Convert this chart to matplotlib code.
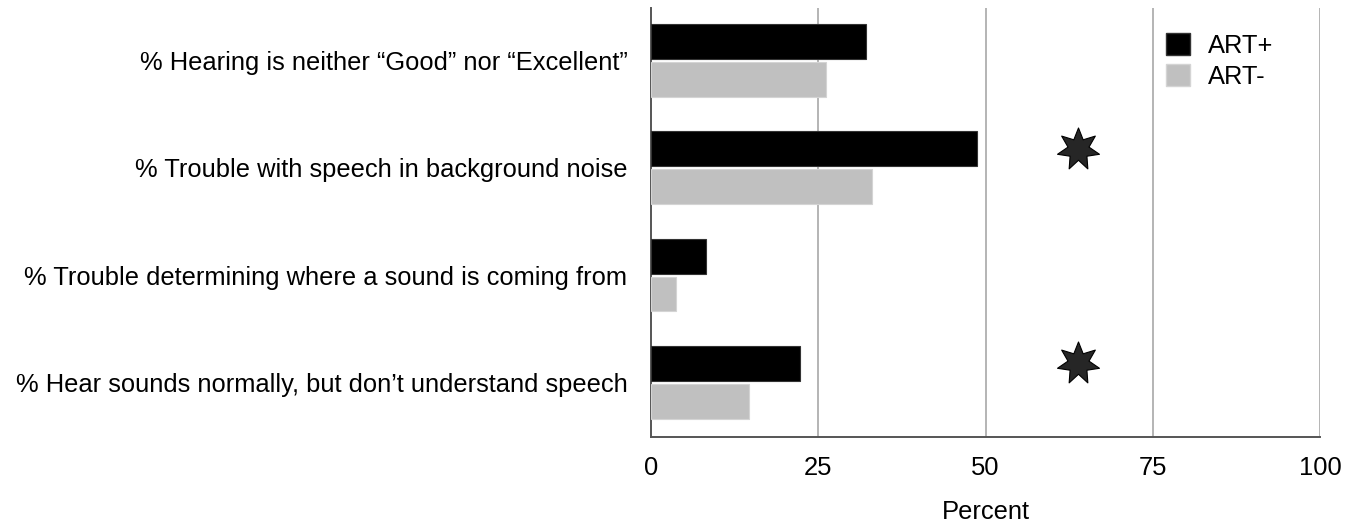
import matplotlib
matplotlib.use("Agg")
import matplotlib.pyplot as plt
from matplotlib.patches import Patch

plt.rcParams["font.family"] = ["Liberation Sans", "DejaVu Sans"]

# ---------------------------------------------------------------------------
# Data
# ---------------------------------------------------------------------------

categories = [
    "% Hearing is neither \u201cGood\u201d nor \u201cExcellent\u201d",
    "% Trouble with speech in background noise",
    "% Trouble determining where a sound is coming from",
    "% Hear sounds normally, but don\u2019t understand speech",
]
art_pos = [32.1, 48.7, 8.2, 22.3]
art_neg = [26.2, 33.1, 3.8, 14.6]
series_labels = ["ART+", "ART-"]

# significance markers: category index and x position (percent)
sig_rows = [1, 3]
sig_x = [63.8, 63.8]

x_ticks = [0, 25, 50, 75, 100]

# ---------------------------------------------------------------------------
# Plot
# ---------------------------------------------------------------------------

W, H = 1358, 525
FS = 18.4
fig = plt.figure(figsize=(W / 100, H / 100), dpi=100)
ax = fig.add_axes([651 / W, 1 - 437 / H, (1320 - 651) / W, (437 - 8) / H])

ys = list(range(len(categories)))
off = 0.176
bh = 0.325
c_pos, c_neg = "#000000", "#c0c0c0"

ax.barh([y - off for y in ys], art_pos, height=bh, color=c_pos,
        edgecolor="#333333", linewidth=0.8, zorder=3)
ax.barh([y + off for y in ys], art_neg, height=bh, color=c_neg,
        edgecolor="#d4d4d4", linewidth=0.8, zorder=3)

ax.scatter(sig_x, [r - off for r in sig_rows], marker=(7, 1, 0), s=31 ** 2,
           color="#262626", edgecolors="#000000", linewidths=0.8, zorder=4)

ax.set_xlim(0, 100)
ax.set_ylim(3.51, -0.49)
ax.set_xticks(x_ticks)
ax.set_xticklabels([str(t) for t in x_ticks], fontsize=FS)
ax.set_yticks(ys)
ax.set_yticklabels(categories, fontsize=FS)
ax.tick_params(axis="both", length=0)
ax.tick_params(axis="x", pad=14)
ax.tick_params(axis="y", pad=17)

for t in x_ticks[1:]:
    ax.axvline(t, color="#b4b4b4", linewidth=1.4, zorder=1)

for side in ("top", "right"):
    ax.spines[side].set_visible(False)
for side in ("left", "bottom"):
    ax.spines[side].set_color("#555555")
    ax.spines[side].set_linewidth(1.4)

ax.set_xlabel("Percent", fontsize=FS, labelpad=14)

handles = [Patch(facecolor=c_pos, edgecolor="#333333"),
           Patch(facecolor=c_neg, edgecolor="#d4d4d4")]
ax.legend(handles, series_labels, loc="upper left",
          bbox_to_anchor=(1166 / W, 1 - 33 / H), bbox_transform=fig.transFigure,
          frameon=False, fontsize=FS, handlelength=0.94, handleheight=0.94,
          handletextpad=0.7, labelspacing=0.25, borderaxespad=0, borderpad=0)

fig.savefig("out.png", dpi=100)
